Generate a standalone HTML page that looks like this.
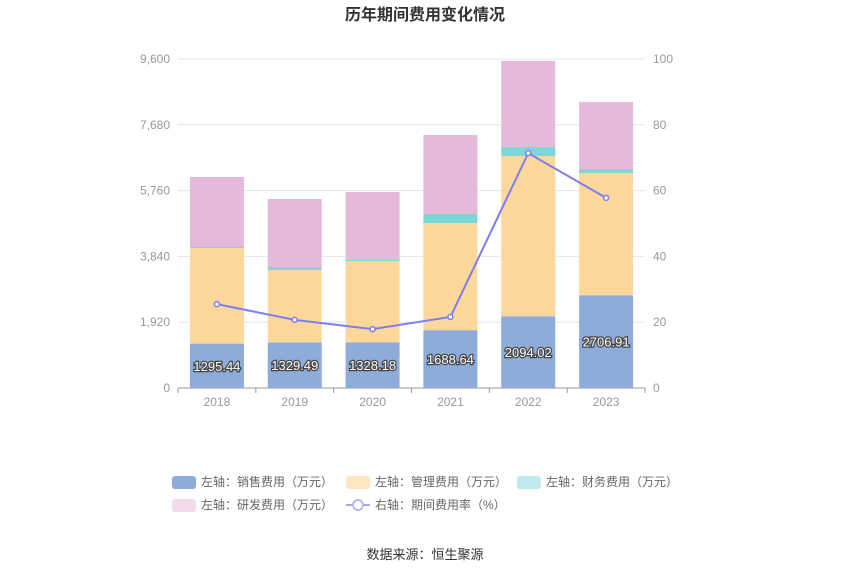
<!DOCTYPE html>
<html><head><meta charset="utf-8">
<style>
body{margin:0;background:#fff;width:850px;height:575px;overflow:hidden;font-family:"Liberation Sans","Noto Sans CJK SC",sans-serif;}
</style></head>
<body>
<svg id="chart" width="850" height="575" xmlns="http://www.w3.org/2000/svg" font-family="Liberation Sans, Noto Sans CJK SC, sans-serif">
<text x="425" y="20" text-anchor="middle" font-size="16" font-weight="bold" fill="#333">历年期间费用变化情况</text>
<g id="grid"></g><g id="bars"></g><g id="line"></g><g id="axes"></g>
<g font-size="12" fill="#666">
 <g><rect x="172" y="476" width="24" height="13" rx="3" fill="#8eacd9"/><text x="201" y="486">左轴：销售费用（万元）</text></g>
 <g><rect x="346" y="476" width="24" height="13" rx="3" fill="#fde6c0"/><text x="375" y="486">左轴：管理费用（万元）</text></g>
 <g><rect x="517" y="476" width="24" height="13" rx="3" fill="#bfe9eb"/><text x="546" y="486">左轴：财务费用（万元）</text></g>
 <g><rect x="172" y="499" width="24" height="13" rx="3" fill="#f2dcec"/><text x="201" y="509">左轴：研发费用（万元）</text></g>
 <g><line x1="346" y1="505" x2="370" y2="505" stroke="#a6a8f5" stroke-width="2"/><circle cx="358" cy="505" r="5" fill="#fff" stroke="#a6a8f5" stroke-width="1.5"/><text x="375" y="509">右轴：期间费用率（%）</text></g>
</g>
<text x="425" y="559" text-anchor="middle" font-size="13" fill="#333">数据来源：恒生聚源</text>
</svg>
<script>
const years=["2018","2019","2020","2021","2022","2023"];
const sales=[1295.44,1329.49,1328.18,1688.64,2094.02,2706.91];
const mgmt=[2790,2114,2378,3126,4676,3567];
const finance=[30,88,30,262,262,116];
const rnd=[2040,1984,1983,2306,2510,1956];
const rate=[25.5,20.7,17.9,21.6,71.4,57.8];
const leftTicks=[0,1920,3840,5760,7680,9600];
const rightTicks=[0,20,40,60,80,100];
const NS="http://www.w3.org/2000/svg";
const x0=178,x1=645,yb=388,yt=59;
const yL=v=>yb-(v/9600)*(yb-yt);
const yR=v=>yb-(v/100)*(yb-yt);
const band=(x1-x0)/years.length;
const xc=i=>x0+band*(i+0.5);
function mk(t,a,p){const e=document.createElementNS(NS,t);for(const k in a)e.setAttribute(k,a[k]);p.appendChild(e);return e;}
const grid=document.getElementById('grid'),axes=document.getElementById('axes');
leftTicks.forEach((t,i)=>{
 const g=mk('line',{x1:x0,x2:x1,y1:yL(t),y2:yL(t),stroke:i==0?'#999':'#e6e6e6'},grid);
 
 
 const l=mk('text',{x:x0-8,y:yL(t)+4,'text-anchor':'end','font-size':12,fill:'#999'},axes);l.textContent=t.toLocaleString('en-US');
 
 
});
rightTicks.forEach(t=>{
 const l=mk('text',{x:x1+8,y:yR(t)+4,'font-size':12,fill:'#999'},axes);l.textContent=t;
 
 
});
const bars=document.getElementById('bars');
const series=[[sales,'#8eacd9','sales'],[mgmt,'#fdd89a','management'],[finance,'#7fd6d9','finance'],[rnd,'#e6b8d9','rnd']];
years.forEach((y,i)=>{
 let acc=0;
 series.forEach(([arr,c,n])=>{
  const r=mk('rect',{x:xc(i)-27,width:54,y:yL(acc+arr[i]),height:yL(acc)-yL(acc+arr[i]),fill:c},bars);
  
  
  acc+=arr[i];
 });
 const lb=mk('text',{x:xc(i),y:(yL(0)+yL(sales[i]))/2+5,'text-anchor':'middle','font-size':13,fill:'#fff',stroke:'#444','stroke-width':2.5,'paint-order':'stroke'},bars);
 lb.textContent=sales[i].toFixed(2);
 
 
 const xl=mk('text',{x:xc(i),y:yb+18,'text-anchor':'middle','font-size':12,fill:'#999'},axes);xl.textContent=y;
 
 
 mk('line',{x1:x0+band*i,x2:x0+band*i,y1:yb,y2:yb+5,stroke:'#999'},axes);
});
mk('line',{x1:x1,x2:x1,y1:yb,y2:yb+5,stroke:'#999'},axes);
const lg=document.getElementById('line');
const p=mk('polyline',{points:rate.map((v,i)=>xc(i)+','+yR(v)).join(' '),fill:'none',stroke:'#7b7ff0','stroke-width':2},lg);


rate.forEach((v,i)=>{
 const c=mk('circle',{cx:xc(i),cy:yR(v),r:2.5,fill:'#fff',stroke:'#7b7ff0','stroke-width':1.5},lg);
 
 
});
</script>
</body></html>
